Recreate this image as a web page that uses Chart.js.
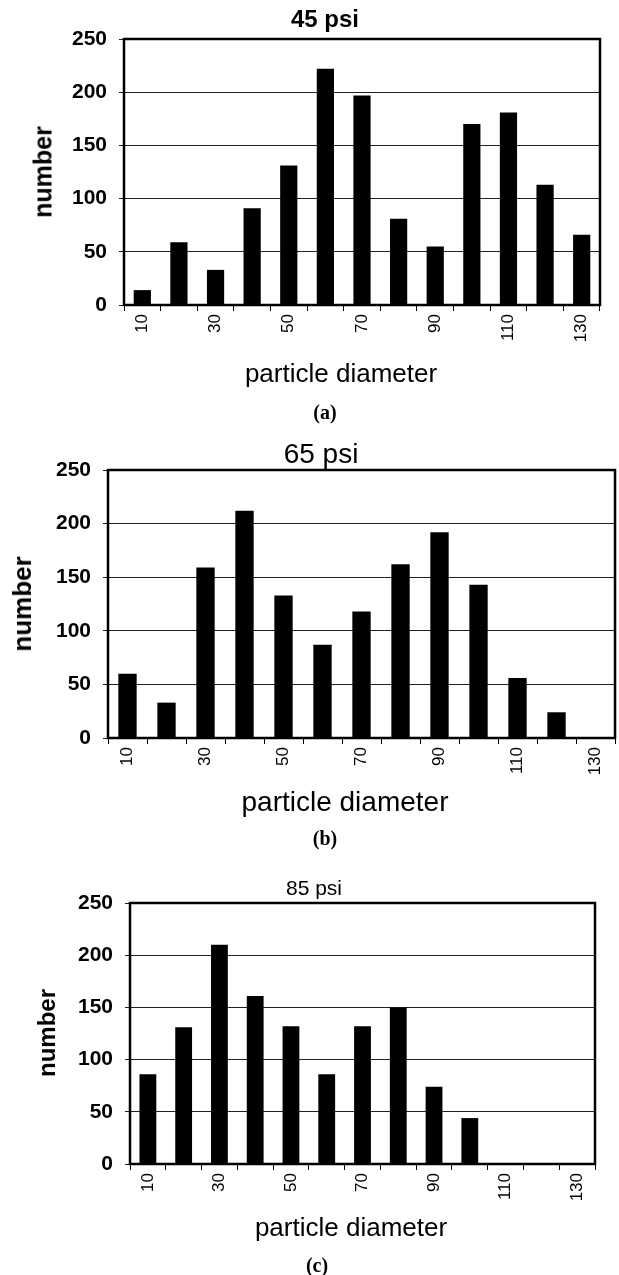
<!DOCTYPE html>
<html>
<head>
<meta charset="utf-8">
<script src="https://cdn.jsdelivr.net/npm/chart.js@4/dist/chart.umd.min.js"></script>
<style>
    html, body { margin: 0; padding: 0; background: #fff; }
    body { position: relative; width: 619px; height: 1275px; overflow: hidden; }
    canvas { position: absolute; left: 0; }
    .txt {
        position: absolute;
        transform: translate(-50%, -50%);
        white-space: nowrap;
        line-height: 1;
        color: #000;
        font-family: "Liberation Sans", Arial, sans-serif;
    }
    .vert { transform: translate(-50%, -50%) rotate(-90deg); font-weight: bold; }
    .cap { font-family: "Liberation Serif", "Times New Roman", serif; font-weight: bold; font-size: 20px; }
</style>
</head>
<body>
<canvas id="chart45" width="619" height="360" style="top:0px"></canvas>
<canvas id="chart65" width="619" height="380" style="top:420px"></canvas>
<canvas id="chart85" width="619" height="380" style="top:840px"></canvas>

<!-- (a) -->
<div class="txt" style="left:325px; top:19px; font-size:24px; font-weight:bold">45 psi</div>
<div class="txt vert" style="left:43px; top:172px; font-size:25px">number</div>
<div class="txt" style="left:341px; top:373px; font-size:26px">particle diameter</div>
<div class="txt cap" style="left:325px; top:412px">(a)</div>

<!-- (b) -->
<div class="txt" style="left:321px; top:454px; font-size:28px">65 psi</div>
<div class="txt vert" style="left:22px; top:604px; font-size:26px">number</div>
<div class="txt" style="left:345px; top:802px; font-size:28px">particle diameter</div>
<div class="txt cap" style="left:325px; top:838px">(b)</div>

<!-- (c) -->
<div class="txt" style="left:314px; top:887px; font-size:21px">85 psi</div>
<div class="txt vert" style="left:47px; top:1033px; font-size:24px">number</div>
<div class="txt" style="left:351px; top:1227px; font-size:26px">particle diameter</div>
<div class="txt cap" style="left:317px; top:1265px">(c)</div>

<script>
// Partikeldurchmesser (Kategorien)
const diameters = ['10', '20', '30', '40', '50', '60', '70', '80', '90', '100', '110', '120', '130'];

// Anzahl je Druckstufe
const counts45 = [14, 59, 33, 91, 131, 222, 197, 81, 55, 170, 181, 113, 66];
const counts65 = [60, 33, 159, 212, 133, 87, 118, 162, 192, 143, 56, 24, 0];
const counts85 = [86, 131, 210, 161, 132, 86, 132, 150, 74, 44, 0, 0, 0];

// y-Achse
const yMin = 0;
const yMax = 250;
const yStep = 50;

Chart.defaults.font.family = '"Liberation Sans", Arial, sans-serif';
Chart.defaults.color = '#000';

// Rahmen um den Plotbereich
const framePlugin = {
    id: 'frame',
    afterDraw(chart) {
        const { ctx, chartArea } = chart;
        ctx.save();
        ctx.strokeStyle = '#000';
        ctx.lineWidth = 2.5;
        ctx.strokeRect(chartArea.left, chartArea.top, chartArea.right - chartArea.left, chartArea.bottom - chartArea.top);
        ctx.restore();
    }
};

function makeChart(id, values, box) {
    const canvas = document.getElementById(id);
    const h = canvas.height;
    return new Chart(canvas, {
        type: 'bar',
        data: {
            labels: diameters,
            datasets: [{
                data: values,
                backgroundColor: '#000',
                borderWidth: 0,
                barPercentage: 0.47,
                categoryPercentage: 1
            }]
        },
        options: {
            responsive: false,
            animation: false,
            layout: {
                padding: { left: 0, right: canvas.width - box.right, top: box.top, bottom: 0 }
            },
            plugins: {
                legend: { display: false },
                tooltip: { enabled: false },
                title: { display: false }
            },
            scales: {
                x: {
                    offset: true,
                    border: { display: false },
                    grid: {
                        offset: true,
                        drawOnChartArea: false,
                        drawTicks: true,
                        tickLength: 6,
                        color: '#000'
                    },
                    ticks: {
                        autoSkip: false,
                        minRotation: 90,
                        maxRotation: 90,
                        padding: 3,
                        font: { size: 17 },
                        callback: function (value, index) {
                            return index % 2 === 0 ? this.getLabelForValue(value) : '';
                        }
                    },
                    afterFit: function (scale) { scale.height = h - box.bottom; }
                },
                y: {
                    min: yMin,
                    max: yMax,
                    border: { display: false },
                    grid: { color: '#222', lineWidth: 1, tickLength: 5 },
                    ticks: {
                        stepSize: yStep,
                        padding: 12,
                        font: { size: 21, weight: 'bold' }
                    },
                    afterFit: function (scale) { scale.width = box.left; }
                }
            }
        },
        plugins: [framePlugin]
    });
}

makeChart('chart45', counts45, { left: 124, right: 600, top: 39, bottom: 305 });
makeChart('chart65', counts65, { left: 108, right: 617, top: 50, bottom: 318 });
makeChart('chart85', counts85, { left: 130, right: 595, top: 63, bottom: 324 });
</script>
</body>
</html>
